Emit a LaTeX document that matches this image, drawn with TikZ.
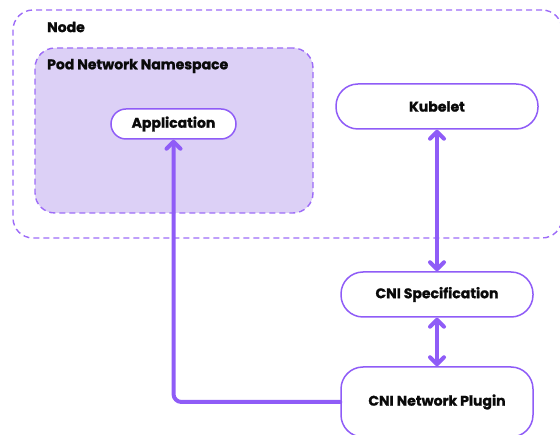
\documentclass[tikz,border=0pt]{standalone}
\usepackage{fontspec}
\setmainfont{Poppins}[BoldFeatures={FakeBold=1.2}]
\usetikzlibrary{arrows.meta}
\definecolor{accent}{HTML}{8F5CF7}
\definecolor{dashline}{HTML}{9D6BF8}
\definecolor{podfill}{HTML}{DCD0F6}
\definecolor{ink}{HTML}{0A0A0A}
\tikzset{
  container/.style={draw=dashline, line width=1.4pt, dash pattern=on 6pt off 4pt,
    rounded corners=20pt, inner sep=0pt},
  pill/.style={draw=accent, line width=1.5pt, fill=white, text=ink,
    font=\bfseries\fontsize{14}{17}\selectfont, inner sep=0pt},
  grouplabel/.style={anchor=west, text=ink, inner sep=0pt,
    font=\bfseries\fontsize{14}{17}\selectfont},
  conn/.style={draw=accent, line width=4pt, line cap=round, line join=round,
    arrows={-Straight Barb[length=7pt,width=14pt,line cap=round,line join=round]}},
  bothways/.style={conn, arrows={Straight Barb[length=7pt,width=14pt,line cap=round,line join=round]-Straight Barb[length=7pt,width=14pt,line cap=round,line join=round]}}
}
\begin{document}
\begin{tikzpicture}[x=1pt,y=-1pt]
\path[use as bounding box, clip] (0,0) rectangle (560,435);

% host node and pod namespace groups
\node[container, minimum width=549pt, minimum height=228pt] (host) at (287.5,124) {};
\node[container, fill=podfill, minimum width=278pt, minimum height=165pt] (pod) at (174,130.5) {};
\node[grouplabel] (hostlbl) at (47,27) {Node};
\node[grouplabel] (podlbl) at (47,66) {Pod Network Namespace};

% components
\node[pill, rounded corners=15pt, minimum width=125pt, minimum height=30pt] (app) at (173.5,124) {Application};
\node[pill, rounded corners=22pt, minimum width=202pt, minimum height=45pt] (kubelet) at (437,106.5) {Kubelet};
\node[pill, rounded corners=22pt, minimum width=192pt, minimum height=45pt] (spec) at (437,294.5) {CNI Specification};
\node[pill, rounded corners=22pt, minimum width=192pt, minimum height=70pt] (plugin) at (437,402) {CNI Network Plugin};

% connectors
\draw[bothways] (kubelet.south) -- (spec.north);
\draw[bothways] (spec.south) -- (plugin.north);
\draw[conn, rounded corners=8pt] (plugin.west) -| (app.south);
\end{tikzpicture}
\end{document}
